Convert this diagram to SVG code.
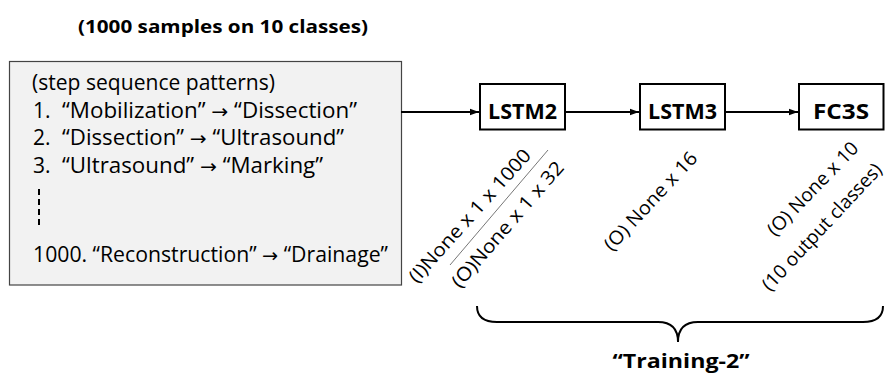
<svg xmlns="http://www.w3.org/2000/svg" width="887" height="374" viewBox="0 0 887 374">
<style>
  .t { font-family: "Open Sans", "Liberation Sans", sans-serif; fill: #000; }
  .b { font-weight: bold; }
  .body { font-size: 21px; }
  .ar { font-family: "DejaVu Sans", sans-serif; font-size: 19px; }
  .rot { font-size: 19px; }
  .node rect { fill: #fff; stroke: #000; stroke-width: 2; }
  .conn { stroke: #000; stroke-width: 1.8; fill: none; }
</style>
<defs>
  <marker id="ah" markerWidth="10" markerHeight="8" refX="9" refY="4" orient="auto" markerUnits="userSpaceOnUse">
    <path d="M0,0.8 L9,4 L0,7.2 Z" fill="#000"/>
  </marker>
</defs>
<rect width="887" height="374" fill="#fff"/>

<text class="t b" x="223" y="33" font-size="18" text-anchor="middle" textLength="290" lengthAdjust="spacingAndGlyphs">(1000 samples on 10 classes)</text>

<g id="input">
  <rect x="9.5" y="61.5" width="392" height="223.5" fill="#f2f2f2" stroke="#444" stroke-width="1.2"/>
  <text class="t body" x="32" y="90" textLength="243" lengthAdjust="spacingAndGlyphs">(step sequence patterns)</text>
  <text class="t body" x="33" y="118">1.</text>
  <text class="t body" x="62" y="118" textLength="295" lengthAdjust="spacingAndGlyphs">“Mobilization” <tspan class="ar">→</tspan> “Dissection”</text>
  <text class="t body" x="33" y="145">2.</text>
  <text class="t body" x="62" y="145" textLength="282" lengthAdjust="spacingAndGlyphs">“Dissection” <tspan class="ar">→</tspan> “Ultrasound”</text>
  <text class="t body" x="33" y="173">3.</text>
  <text class="t body" x="62" y="173" textLength="261" lengthAdjust="spacingAndGlyphs">“Ultrasound” <tspan class="ar">→</tspan> “Marking”</text>
  <line x1="39" y1="189" x2="39" y2="228" stroke="#000" stroke-width="2" stroke-dasharray="6,4"/>
  <text class="t body" x="33" y="262" textLength="355" lengthAdjust="spacingAndGlyphs">1000. “Reconstruction” <tspan class="ar">→</tspan> “Drainage”</text>
</g>

<g id="connectors">
  <line class="conn" x1="401" y1="112" x2="479" y2="112" marker-end="url(#ah)"/>
  <line class="conn" x1="565" y1="112" x2="639" y2="112" marker-end="url(#ah)"/>
  <line class="conn" x1="725" y1="112" x2="798" y2="112" marker-end="url(#ah)"/>
</g>

<g id="lstm2" class="node">
  <rect x="480" y="84" width="85" height="45.5"/>
  <text class="t b" x="522.5" y="119" font-size="21" text-anchor="middle" textLength="69" lengthAdjust="spacingAndGlyphs">LSTM2</text>
</g>
<g id="lstm3" class="node">
  <rect x="640" y="84" width="85" height="45.5"/>
  <text class="t b" x="682.5" y="119" font-size="21" text-anchor="middle" textLength="69" lengthAdjust="spacingAndGlyphs">LSTM3</text>
</g>
<g id="fc3s" class="node">
  <rect x="799" y="84" width="84.5" height="45.5"/>
  <text class="t b" x="841" y="119" font-size="21" text-anchor="middle" textLength="56" lengthAdjust="spacingAndGlyphs">FC3S</text>
</g>

<g id="labels">
  <text class="t rot" x="417" y="284" transform="rotate(-48 417 284)" textLength="172" lengthAdjust="spacingAndGlyphs">(I)None x 1 x 1000</text>
  <line x1="450" y1="265" x2="548" y2="150" stroke="#777" stroke-width="1"/>
  <text class="t rot" x="460" y="289" transform="rotate(-49 460 289)" textLength="160" lengthAdjust="spacingAndGlyphs">(O)None x 1 x 32</text>
  <text class="t rot" x="612" y="252" transform="rotate(-47 612 252)" textLength="127" lengthAdjust="spacingAndGlyphs">(O) None x 16</text>
  <text class="t rot" x="775" y="237" transform="rotate(-46 775 237)" textLength="122" lengthAdjust="spacingAndGlyphs">(O) None x 10</text>
  <text class="t rot" x="770" y="292" transform="rotate(-47 770 292)" textLength="166" lengthAdjust="spacingAndGlyphs">(10 output classes)</text>
</g>

<g id="brace">
  <path d="M477,306 Q477,322 497,322 L658,322 Q678,322 678,342 Q678,322 698,322 L863,322 Q883,322 883,306" fill="none" stroke="#000" stroke-width="2"/>
  <text class="t b" x="681" y="368" font-size="20" text-anchor="middle" textLength="137" lengthAdjust="spacingAndGlyphs">“Training-2”</text>
</g>
</svg>
